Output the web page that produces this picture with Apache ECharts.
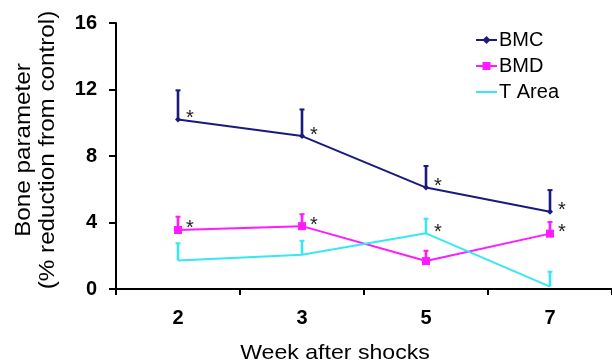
<!DOCTYPE html>
<html>
<head>
<meta charset="utf-8">
<script src="https://cdn.jsdelivr.net/npm/echarts@6/dist/echarts.min.js"></script>
<style>html,body{margin:0;padding:0;background:#fff}#c{width:612px;height:363px}</style>
</head>
<body>
<div id="c"></div>
<script>
var categories = ['2', '3', '5', '7'];
var yTicks = [0, 4, 8, 12, 16];
var bmc = [10.2, 9.2, 6.1, 4.65];
var bmcErr = [11.95, 10.8, 7.4, 5.95];
var bmcStar = [1, 1, 1, 1];
var bmd = [3.55, 3.78, 1.68, 3.33];
var bmdErr = [4.35, 4.5, 2.3, 4.03];
var bmdStar = [1, 1, 0, 1];
var tarea = [1.72, 2.06, 3.35, 0.14];
var tareaErr = [2.75, 2.9, 4.23, 1.04];
var tareaStar = [0, 0, 1, 0];

var FONT = 'Liberation Sans, Arial, sans-serif';
var colors = {bmc: '#1a1a7e', bmd: '#ff1aff', tarea: '#38e6f4'};

function errSeries(vals, tops, stars, color) {
  var data = vals.map(function (v, i) { return [i, v, tops[i], stars[i]]; });
  return {
    type: 'custom',
    silent: true,
    z: 5,
    data: data,
    encode: {x: 0, y: [1, 2]},
    renderItem: function (params, api) {
      var i = api.value(0);
      var p = api.coord([i, api.value(1)]);
      var t = api.coord([i, api.value(2)]);
      var children = [
        {type: 'line', shape: {x1: p[0], y1: p[1], x2: t[0], y2: t[1]}, style: {stroke: color, lineWidth: 2.6}},
        {type: 'line', shape: {x1: t[0] - 2.5, y1: t[1], x2: t[0] + 2.5, y2: t[1]}, style: {stroke: color, lineWidth: 2}}
      ];
      if (api.value(3)) {
        children.push({type: 'text', style: {text: '*', x: p[0] + 12, y: p[1] - 1, fill: '#222', font: '20px ' + FONT, textAlign: 'center', textVerticalAlign: 'middle'}});
      }
      return {type: 'group', children: children};
    }
  };
}

var chart = echarts.init(document.getElementById('c'), null, {renderer: 'canvas'});
chart.setOption({
  animation: false,
  backgroundColor: '#fff',
  grid: {left: 116, right: 0, top: 23, bottom: 74, containLabel: false, outerBoundsMode: 'none'},
  legend: {
    orient: 'vertical',
    left: 470,
    top: 25,
    itemGap: 6,
    itemWidth: 21,
    itemHeight: 10,
    textStyle: {fontFamily: FONT, fontSize: 20, color: '#000', padding: [0, 0, 0, -3]},
    data: ['BMC', 'BMD', {name: 'T Area', itemStyle: {opacity: 0}}]
  },
  xAxis: {
    type: 'category',
    data: categories,
    axisLine: {lineStyle: {color: '#000', width: 2}},
    axisTick: {show: true, length: 6, lineStyle: {color: '#000', width: 2}},
    axisLabel: {fontFamily: FONT, fontSize: 20, fontWeight: 'bold', color: '#000', margin: 19}
  },
  yAxis: {
    type: 'value',
    min: 0, max: 16, interval: 4,
    splitLine: {show: false},
    axisLine: {show: true, lineStyle: {color: '#000', width: 2}},
    axisTick: {show: true, length: 7, lineStyle: {color: '#000', width: 2}},
    axisLabel: {fontFamily: FONT, fontSize: 20, fontWeight: 'bold', color: '#000', margin: 19,
      formatter: function (v) { return yTicks.indexOf(v) >= 0 ? String(v) : ''; }}
  },
  graphic: [{
    type: 'text', x: 335, y: 353, scaleX: 1.1,
    style: {text: 'Week after shocks', font: '21px ' + FONT, fill: '#000', textAlign: 'center', textVerticalAlign: 'middle'}
  }, {
    type: 'text', x: 36, y: 150, rotation: Math.PI / 2, scaleX: 1.1,
    style: {text: 'Bone parameter\n(% reduction from control)', font: '22px ' + FONT, lineHeight: 24, fill: '#000', textAlign: 'center', textVerticalAlign: 'middle'}
  }],
  series: [
    {name: 'BMC', type: 'line', data: bmc, color: colors.bmc, symbol: 'diamond', symbolSize: 6,
      lineStyle: {width: 2}, z: 3},
    {name: 'BMD', type: 'line', data: bmd, color: colors.bmd, symbol: 'rect', symbolSize: 8,
      lineStyle: {width: 2}, z: 3},
    {name: 'T Area', type: 'line', data: tarea, color: colors.tarea, symbol: 'none',
      lineStyle: {width: 2}, z: 3},
    errSeries(bmc, bmcErr, bmcStar, colors.bmc),
    errSeries(bmd, bmdErr, bmdStar, colors.bmd),
    errSeries(tarea, tareaErr, tareaStar, colors.tarea)
  ]
});
</script>
</body>
</html>
